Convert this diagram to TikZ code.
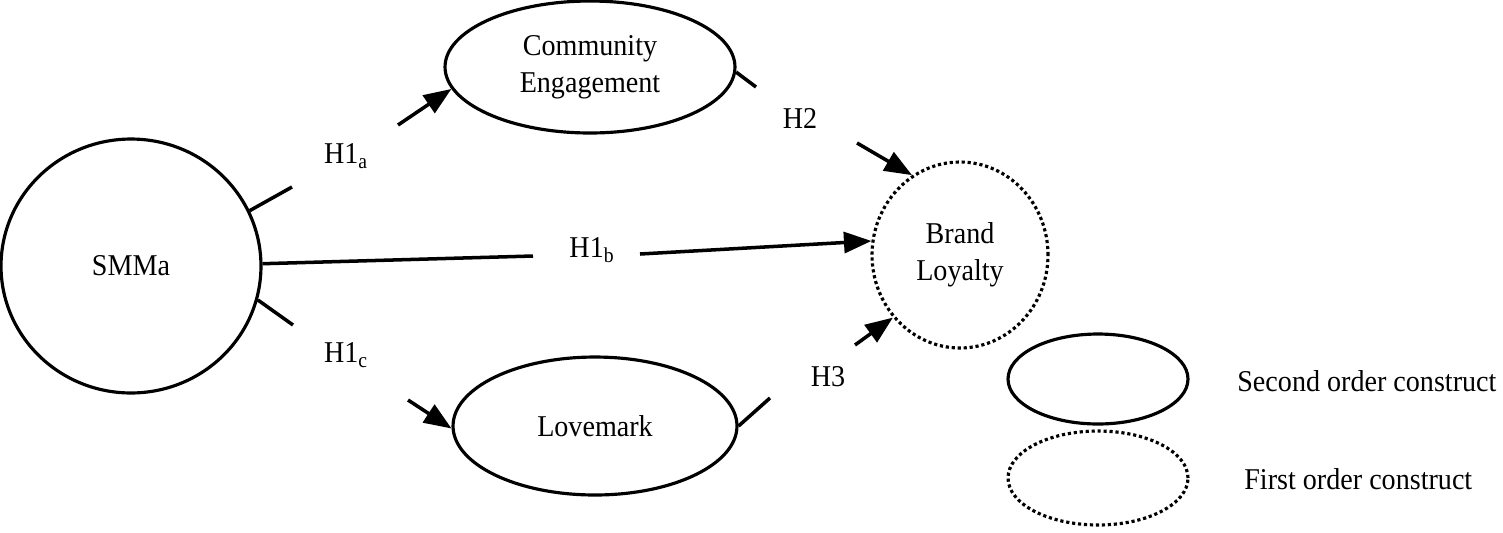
\documentclass[tikz,border=0pt]{standalone}
\usepackage{fontspec}
\setmainfont[FakeStretch=0.93]{Liberation Serif}
\usetikzlibrary{shapes.geometric,arrows.meta}
\begin{document}
\begin{tikzpicture}[x=0.02cm,y=-0.02cm,
  every node/.style={font=\fontsize{17.2}{21}\selectfont},
  solidell/.style={ellipse,draw,line width=1.8pt,inner sep=0pt,align=center},
  dotell/.style={ellipse,draw,line width=1.8pt,dash pattern=on 1.8pt off 1.6pt,inner sep=0pt,align=center},
  conn/.style={line width=2pt},
  arr/.style={line width=2pt,-{Triangle[length=0.55cm,width=0.42cm]}},
  lab/.style={inner sep=1pt}]
\useasboundingbox (0,0) rectangle (1503,532);
\node[solidell,minimum width=5.2cm,minimum height=5.08cm] (smma) at (131,266) {SMMa};
\node[solidell,minimum width=5.8cm,minimum height=2.64cm] (ce) at (590,67) {Community\\Engagement};
\node[solidell,minimum width=5.68cm,minimum height=2.76cm] (love) at (595,426) {Lovemark};
\node[dotell,minimum width=3.52cm,minimum height=3.72cm] (bl) at (960,255) {Brand\\Loyalty};
\node[solidell,minimum width=3.6cm,minimum height=1.8cm] (leg1) at (1098,379) {};
\node[dotell,minimum width=3.6cm,minimum height=1.88cm] (leg2) at (1098,478) {};
\node[anchor=west,inner sep=0pt] (leg1t) at (1237,381) {Second order construct};
\node[anchor=west,inner sep=0pt] (leg2t) at (1244,479) {First order construct};
% gap coordinates
\coordinate (a1) at (292,187); \coordinate (a2) at (398,125);
\coordinate (b1) at (533,256); \coordinate (b2) at (640,254);
\coordinate (c1) at (293,325); \coordinate (c2) at (408,400);
\coordinate (d1) at (756,87);  \coordinate (d2) at (857,143);
\coordinate (e1) at (770,398); \coordinate (e2) at (855,345);
\draw[conn] (smma.25) -- (a1);
\draw[arr] (a2) -- (ce.189);
\draw[conn] (smma.1) -- (b1);
\draw[arr] (b2) -- (bl.171);
\draw[conn] (smma.-15) -- (c1);
\draw[arr] (c2) -- (love.181);
\draw[conn] (ce.-2) -- (d1);
\draw[arr] (d2) -- (bl.121);
\draw[conn] (love.0) -- (e1);
\draw[arr] (e2) -- (bl.223);
\node[lab] (la) at (346,156) {H1\textsubscript{a}};
\node[lab] (lb) at (592,250) {H1\textsubscript{b}};
\node[lab] (lc) at (346,355) {H1\textsubscript{c}};
\node[lab] (l2) at (800,118) {H2};
\node[lab] (l3) at (828,377) {H3};
\end{tikzpicture}
\end{document}
